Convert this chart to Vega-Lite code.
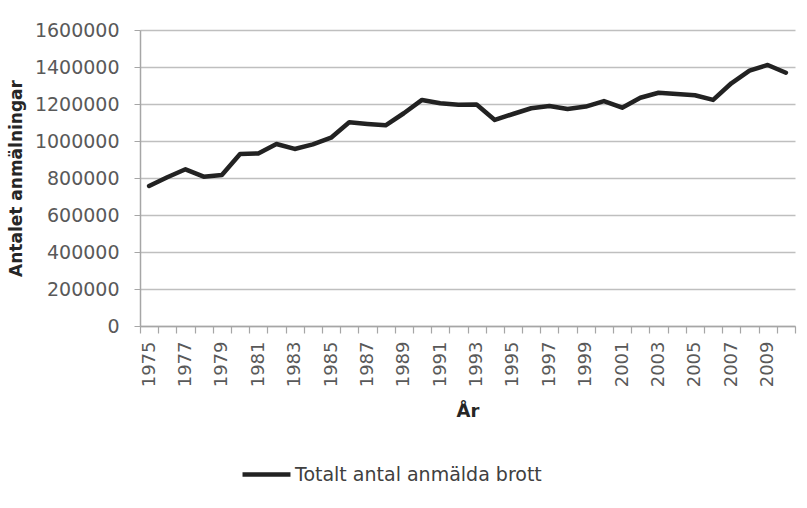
{
  "$schema": "https://vega.github.io/schema/vega-lite/v6.json",
  "width": 655,
  "height": 296,
  "autosize": {"type": "none"},
  "padding": {"left": 140, "top": 30, "right": 12, "bottom": 182},
  "background": "white",
  "config": {
    "view": {"stroke": null},
    "font": "DejaVu Sans"
  },
  "data": {
    "values": [
      {"year": 1975, "value": 757000, "series": "Totalt antal anmälda brott"},
      {"year": 1976, "value": 804000, "series": "Totalt antal anmälda brott"},
      {"year": 1977, "value": 847000, "series": "Totalt antal anmälda brott"},
      {"year": 1978, "value": 807000, "series": "Totalt antal anmälda brott"},
      {"year": 1979, "value": 816000, "series": "Totalt antal anmälda brott"},
      {"year": 1980, "value": 930000, "series": "Totalt antal anmälda brott"},
      {"year": 1981, "value": 933000, "series": "Totalt antal anmälda brott"},
      {"year": 1982, "value": 984000, "series": "Totalt antal anmälda brott"},
      {"year": 1983, "value": 957000, "series": "Totalt antal anmälda brott"},
      {"year": 1984, "value": 982000, "series": "Totalt antal anmälda brott"},
      {"year": 1985, "value": 1018000, "series": "Totalt antal anmälda brott"},
      {"year": 1986, "value": 1101000, "series": "Totalt antal anmälda brott"},
      {"year": 1987, "value": 1092000, "series": "Totalt antal anmälda brott"},
      {"year": 1988, "value": 1085000, "series": "Totalt antal anmälda brott"},
      {"year": 1989, "value": 1150000, "series": "Totalt antal anmälda brott"},
      {"year": 1990, "value": 1222000, "series": "Totalt antal anmälda brott"},
      {"year": 1991, "value": 1204000, "series": "Totalt antal anmälda brott"},
      {"year": 1992, "value": 1196000, "series": "Totalt antal anmälda brott"},
      {"year": 1993, "value": 1197000, "series": "Totalt antal anmälda brott"},
      {"year": 1994, "value": 1114000, "series": "Totalt antal anmälda brott"},
      {"year": 1995, "value": 1146000, "series": "Totalt antal anmälda brott"},
      {"year": 1996, "value": 1177000, "series": "Totalt antal anmälda brott"},
      {"year": 1997, "value": 1189000, "series": "Totalt antal anmälda brott"},
      {"year": 1998, "value": 1173000, "series": "Totalt antal anmälda brott"},
      {"year": 1999, "value": 1186000, "series": "Totalt antal anmälda brott"},
      {"year": 2000, "value": 1216000, "series": "Totalt antal anmälda brott"},
      {"year": 2001, "value": 1180000, "series": "Totalt antal anmälda brott"},
      {"year": 2002, "value": 1234000, "series": "Totalt antal anmälda brott"},
      {"year": 2003, "value": 1261000, "series": "Totalt antal anmälda brott"},
      {"year": 2004, "value": 1254000, "series": "Totalt antal anmälda brott"},
      {"year": 2005, "value": 1247000, "series": "Totalt antal anmälda brott"},
      {"year": 2006, "value": 1222000, "series": "Totalt antal anmälda brott"},
      {"year": 2007, "value": 1312000, "series": "Totalt antal anmälda brott"},
      {"year": 2008, "value": 1380000, "series": "Totalt antal anmälda brott"},
      {"year": 2009, "value": 1411000, "series": "Totalt antal anmälda brott"},
      {"year": 2010, "value": 1369000, "series": "Totalt antal anmälda brott"}
    ]
  },
  "mark": {"type": "line", "strokeWidth": 4.5, "strokeJoin": "round", "strokeCap": "round"},
  "encoding": {
    "x": {
      "field": "year",
      "type": "ordinal",
      "scale": {"type": "band", "paddingInner": 0, "paddingOuter": 0},
      "axis": {
        "title": "År",
        "titleFont": "DejaVu Sans",
        "titleFontSize": 18,
        "titleFontWeight": "bold",
        "titleColor": "#262626",
        "titlePadding": 16,
        "labelAngle": -90,
        "labelFontSize": 18,
        "labelColor": "#595959",
        "labelPadding": 8,
        "labelExpr": "datum.value % 2 == 1 ? datum.label : ''",
        "tickBand": "extent",
        "tickSize": 7,
        "tickColor": "#a6a6a6",
        "tickWidth": 1.2,
        "domainColor": "#a6a6a6",
        "domainWidth": 1.5,
        "grid": false
      }
    },
    "y": {
      "field": "value",
      "type": "quantitative",
      "scale": {"domain": [0, 1600000], "nice": false},
      "axis": {
        "title": "Antalet anmälningar",
        "titleFont": "DejaVu Sans",
        "titleFontSize": 17,
        "titleFontWeight": "bold",
        "titleColor": "#262626",
        "titlePadding": 9,
        "values": [0, 200000, 400000, 600000, 800000, 1000000, 1200000, 1400000, 1600000],
        "format": "d",
        "labelFontSize": 19,
        "labelColor": "#595959",
        "labelPadding": 15,
        "tickSize": 6,
        "tickColor": "#a6a6a6",
        "domainColor": "#a6a6a6",
        "domainWidth": 1.5,
        "gridColor": "#bfbfbf",
        "gridWidth": 1.5
      }
    },
    "color": {
      "field": "series",
      "type": "nominal",
      "scale": {"range": ["#222222"]},
      "legend": {
        "title": null,
        "orient": "none",
        "legendX": 100,
        "legendY": 418,
        "symbolType": "stroke",
        "symbolSize": 2300,
        "symbolStrokeWidth": 4.5,
        "labelFontSize": 19,
        "labelLimit": 500,
        "labelColor": "#404040",
        "labelOffset": 2
      }
    }
  }
}
